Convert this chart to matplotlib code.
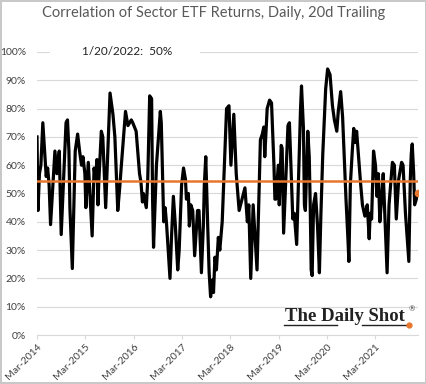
import matplotlib.pyplot as plt
from matplotlib.lines import Line2D
from matplotlib.patches import Rectangle

plt.rcParams['font.family'] = ['Lato', 'DejaVu Sans']

# decimal years and 20d trailing correlation (%)
years = [2014.17, 2014.19, 2014.22, 2014.25, 2014.29, 2014.33, 2014.36, 2014.39, 2014.42, 2014.45,
         2014.54, 2014.58, 2014.63, 2014.67, 2014.77, 2014.80, 2014.83, 2014.85, 2014.90, 2014.96,
         2015.01, 2015.05, 2015.09, 2015.12, 2015.16, 2015.18, 2015.23, 2015.31, 2015.35, 2015.38,
         2015.41, 2015.43, 2015.45, 2015.50, 2015.53, 2015.59, 2015.68, 2015.74, 2015.78, 2015.84,
         2015.88, 2015.91, 2016.00, 2016.05, 2016.12, 2016.15, 2016.22, 2016.29, 2016.32, 2016.35,
         2016.37, 2016.43, 2016.46, 2016.50, 2016.54, 2016.56, 2016.58, 2016.64, 2016.72, 2016.74,
         2016.79, 2016.82, 2016.85, 2016.92, 2016.95, 2016.99, 2017.03, 2017.08, 2017.11, 2017.16,
         2017.20, 2017.24, 2017.26, 2017.30, 2017.32, 2017.35, 2017.39, 2017.43, 2017.49, 2017.52,
         2017.57, 2017.61, 2017.63, 2017.66, 2017.70, 2017.73, 2017.76, 2017.80, 2017.82, 2017.85,
         2017.88, 2017.92, 2017.95, 2018.00, 2018.09, 2018.14, 2018.18, 2018.24, 2018.29, 2018.35,
         2018.41, 2018.47, 2018.52, 2018.55, 2018.59, 2018.64, 2018.72, 2018.79, 2018.83, 2018.86,
         2018.88, 2018.93, 2018.98, 2019.02, 2019.07, 2019.09, 2019.11, 2019.16, 2019.18, 2019.22,
         2019.24, 2019.27, 2019.36, 2019.39, 2019.46, 2019.49, 2019.54, 2019.62, 2019.64, 2019.68,
         2019.70, 2019.72, 2019.77, 2019.80, 2019.82, 2019.84, 2019.86, 2019.89, 2019.93, 2019.97,
         2020.01, 2020.04, 2020.08, 2020.14, 2020.18, 2020.23, 2020.28, 2020.32, 2020.37, 2020.40,
         2020.45, 2020.49, 2020.53, 2020.56, 2020.60, 2020.62, 2020.65, 2020.69, 2020.72, 2020.75,
         2020.78, 2020.82, 2020.86, 2020.90, 2020.95, 2021.00, 2021.04, 2021.06, 2021.09, 2021.13,
         2021.17, 2021.20, 2021.23, 2021.26, 2021.30, 2021.33, 2021.41, 2021.45, 2021.52, 2021.56,
         2021.60, 2021.65, 2021.71, 2021.74, 2021.79, 2021.86, 2021.89, 2021.91, 2021.93, 2021.96,
         2021.98, 2022.05]
corr = [70, 44, 57, 60, 75, 64, 56, 59, 53, 39,
        65, 57, 65, 35.5, 75, 76, 65, 45, 23.5, 65,
        71, 65, 60, 63, 57, 45, 61, 35, 59, 55,
        62, 46, 55, 72, 70, 45, 85.5, 78, 70, 44,
        52, 59, 79, 74, 76, 75, 72, 57, 54, 47,
        50, 45, 55, 84.5, 83.5, 48, 31, 60, 79, 75,
        40, 45, 39, 20, 34, 49, 39, 23, 30, 53,
        59, 55, 48, 50, 38.5, 46, 44, 28, 44, 44,
        22, 38.5, 53, 63, 38.5, 22, 13.5, 19.5, 15, 27.5,
        23, 34.5, 30, 40, 80, 81, 60, 78, 57, 44,
        48, 52, 40, 46, 20, 46, 23, 69, 71, 73.5,
        63, 80, 83, 82, 60, 48, 48, 60, 46, 67,
        66, 36, 74, 75, 41, 43, 32, 80, 88, 73,
        46, 44, 72, 63, 46, 23, 21, 46, 50, 39,
        22, 42, 64, 87, 94, 92, 81, 76, 72, 79,
        86, 77, 60, 48, 34, 26, 53, 65, 73, 68,
        72, 63, 54, 46, 42, 46, 34, 43, 41, 65,
        60, 49, 57, 40, 49, 57, 22, 46, 61, 60,
        41, 55, 61, 60, 43, 26, 55, 64, 67.5, 57,
        46, 50]
average = 54.5
tick_years = [2014.17 + k for k in range(8)]
tick_labels = ['Mar-2014', 'Mar-2015', 'Mar-2016', 'Mar-2017',
               'Mar-2018', 'Mar-2019', 'Mar-2020', 'Mar-2021']
y_ticks = list(range(0, 101, 10))

orange = '#E8772E'
grey_txt = '#404040'

fig = plt.figure(figsize=(4.27, 3.84), dpi=100)
fig.patch.set_edgecolor('#C8C8C8')
fig.patch.set_linewidth(1.5)
ax = fig.add_axes([0.0867, 0.1276, 0.8923, 0.737])

ax.plot(years, corr, color='black', lw=2.3, solid_joinstyle='round', zorder=3)
ax.axhline(average, color=orange, lw=1.8, zorder=4)
ax.plot(years[-1], corr[-1], 'o', color=orange, ms=4.5, zorder=5)

ax.set_xlim(2014.17, 2022.05)
ax.set_ylim(0, 100)
ax.set_yticks(y_ticks)
ax.set_yticklabels([f'{v}%' for v in y_ticks], fontsize=7.5, color=grey_txt)
ax.set_xticks(tick_years)
ax.set_xticklabels(tick_labels, rotation=45, ha='right', rotation_mode='anchor',
                   fontsize=7.5, color=grey_txt)
ax.grid(axis='y', color='#D9D9D9', lw=0.8)
ax.set_axisbelow(True)
for s in ['top', 'right', 'left']:
    ax.spines[s].set_visible(False)
ax.spines['bottom'].set_color('#D9D9D9')
ax.tick_params(axis='y', length=0, pad=8)
ax.tick_params(axis='x', length=3, color='#D9D9D9', pad=2)

# white gap in the top gridline behind the annotation
ax.add_patch(Rectangle((0.034, 0.97), 0.394, 0.06, transform=ax.transAxes,
                       facecolor='white', edgecolor='none', clip_on=False, zorder=1))
ax.text(0.118, 1.0, '1/20/2022:  50%', transform=ax.transAxes, fontsize=8.5,
        color='#222222', va='center', ha='left', zorder=6)

fig.text(0.5, 0.965, 'Correlation of Sector ETF Returns, Daily, 20d Trailing',
         ha='center', va='center', fontsize=10.5, color='#595959')

# logo
fig.text(0.667, 0.165, 'The Daily Shot', family='Liberation Serif', fontsize=13.5,
         fontweight='bold', color='#222222', ha='left', va='baseline')
fig.text(0.958, 0.19, '®', family='Liberation Serif', fontsize=6, color='#222222')
fig.add_artist(Line2D([0.665, 0.79], [0.153, 0.153], color='#222222', lw=1))
fig.add_artist(Line2D([0.848, 0.955], [0.153, 0.153], color='#222222', lw=1))
fig.add_artist(Line2D([0.957], [0.153], marker='o', color=orange, ms=3.5))

fig.savefig('out.png', dpi=100)
